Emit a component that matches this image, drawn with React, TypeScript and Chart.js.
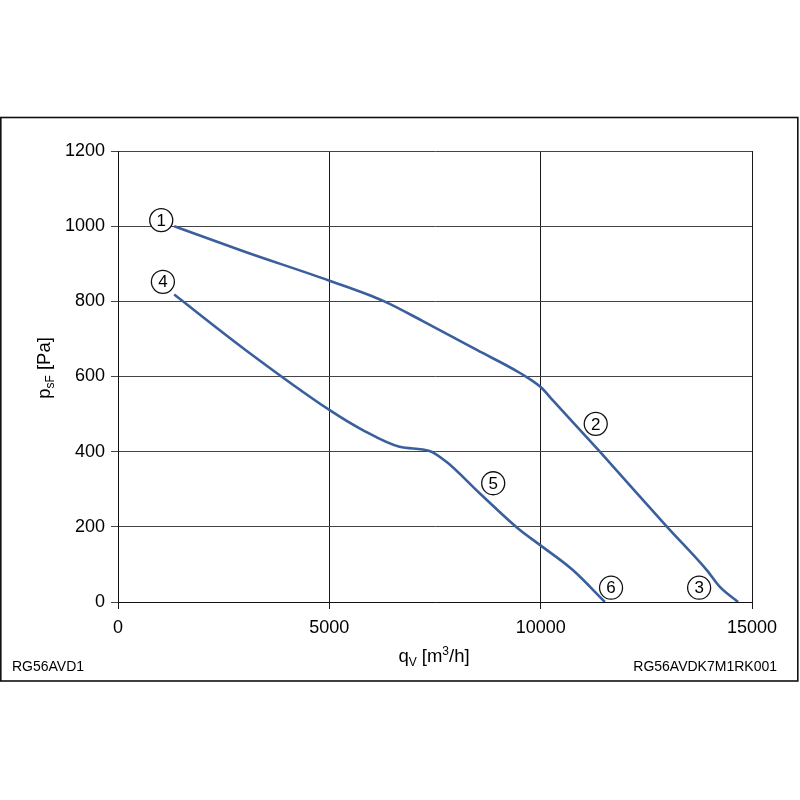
import React, { useEffect, useRef } from "react";
import { Chart, registerables } from "chart.js";
Chart.register(...registerables);

// Curve 1 -> 2 -> 3
const upperQ = [1330, 3000, 5000, 6300, 7200, 8500, 9500, 10000, 10300, 11400, 12990, 13930, 14240, 14670];
const upperP = [1000, 932, 855, 800, 748, 670, 610, 572, 535, 400, 200, 85, 40, 0];
// Curve 4 -> 5 -> 6
const lowerQ = [1330, 3000, 5000, 5780, 6660, 7370, 7770, 8550, 9450, 9980, 10760, 11520];
const lowerP = [818, 672, 511, 458, 413, 402, 373, 290, 197, 152, 85, 0];

// Circled point markers
const markerText = ["1", "2", "3", "4", "5", "6"];
const markerQ = [1023, 11303, 13749, 1062, 8877, 11665];
const markerP = [1016, 474, 38, 852, 316, 38];

const xTicks = [0, 5000, 10000, 15000];
const yTicks = [0, 200, 400, 600, 800, 1000, 1200];

const leftCode = "RG56AVD1";
const rightCode = "RG56AVDK7M1RK001";

const FONT = "'Liberation Sans', Arial, Helvetica, sans-serif";
const LINE = "#3a5f9d";

type Seg = { t: string; size: number; dy: number };

function drawSegs(ctx: CanvasRenderingContext2D, segs: Seg[], x: number, y: number) {
  let cx = x;
  for (const s of segs) {
    ctx.font = `${s.size}px ${FONT}`;
    ctx.fillText(s.t, cx, y + s.dy);
    cx += ctx.measureText(s.t).width;
  }
}
function segsWidth(ctx: CanvasRenderingContext2D, segs: Seg[]) {
  let w = 0;
  for (const s of segs) {
    ctx.font = `${s.size}px ${FONT}`;
    w += ctx.measureText(s.t).width;
  }
  return w;
}

const decorPlugin = {
  id: "decor",
  afterDraw(chart: any) {
    const ctx: CanvasRenderingContext2D = chart.ctx;
    const xs = chart.scales.x;
    const ys = chart.scales.y;
    ctx.save();
    // frame
    ctx.strokeStyle = "#111";
    ctx.lineWidth = 1.6;
    ctx.strokeRect(0.8, 117.5, 797, 563.5);

    // markers
    for (let i = 0; i < markerText.length; i++) {
      const px = xs.getPixelForValue(markerQ[i]);
      const py = ys.getPixelForValue(markerP[i]);
      ctx.beginPath();
      ctx.arc(px, py, 11.5, 0, Math.PI * 2);
      ctx.fillStyle = "#fff";
      ctx.fill();
      ctx.lineWidth = 1.3;
      ctx.strokeStyle = "#111";
      ctx.stroke();
      ctx.fillStyle = "#000";
      ctx.font = `17px ${FONT}`;
      ctx.textAlign = "center";
      ctx.textBaseline = "middle";
      ctx.fillText(markerText[i], px, py + 1);
    }

    ctx.textAlign = "left";
    ctx.textBaseline = "alphabetic";
    ctx.fillStyle = "#000";

    // x title
    const xSegs: Seg[] = [
      { t: "q", size: 18.5, dy: 0 },
      { t: "V", size: 12, dy: 4 },
      { t: " [m", size: 18.5, dy: 0 },
      { t: "3", size: 12, dy: -7 },
      { t: "/h]", size: 18.5, dy: 0 },
    ];
    const xw = segsWidth(ctx, xSegs);
    drawSegs(ctx, xSegs, 434 - xw / 2, 662);

    // y title
    const ySegs: Seg[] = [
      { t: "p", size: 18.5, dy: 0 },
      { t: "sF", size: 12, dy: 4 },
      { t: " [Pa]", size: 18.5, dy: 0 },
    ];
    const yw = segsWidth(ctx, ySegs);
    ctx.save();
    ctx.translate(50, 368);
    ctx.rotate(-Math.PI / 2);
    drawSegs(ctx, ySegs, -yw / 2, 0);
    ctx.restore();

    // bottom codes
    ctx.font = `14px ${FONT}`;
    ctx.textAlign = "left";
    ctx.fillText(leftCode, 12, 671);
    ctx.textAlign = "right";
    ctx.fillText(rightCode, 777, 671);
    ctx.restore();
  },
};

export default function App() {
  const ref = useRef<HTMLCanvasElement | null>(null);
  useEffect(() => {
    if (!ref.current) return;
    const chart = new Chart(ref.current, {
      type: "line",
      data: {
        datasets: [
          {
            label: "upper",
            data: upperQ.map((q, i) => ({ x: q, y: upperP[i] })),
            borderColor: LINE,
            borderWidth: 2.6,
            pointRadius: 0,
            fill: false,
            cubicInterpolationMode: "monotone",
          },
          {
            label: "lower",
            data: lowerQ.map((q, i) => ({ x: q, y: lowerP[i] })),
            borderColor: LINE,
            borderWidth: 2.6,
            pointRadius: 0,
            fill: false,
            cubicInterpolationMode: "monotone",
          },
        ],
      },
      options: {
        animation: false,
        responsive: false,
        layout: { padding: { left: 0, right: 48, top: 151, bottom: 118 } },
        plugins: { legend: { display: false }, tooltip: { enabled: false } },
        scales: {
          x: {
            type: "linear",
            min: 0,
            max: 15000,
            afterBuildTicks: (s: any) => {
              s.ticks = xTicks.map((v) => ({ value: v }));
            },
            afterFit: (s: any) => {
              s.height = 80;
            },
            ticks: {
              color: "#000",
              font: { family: FONT, size: 18 },
              padding: 8,
              maxRotation: 0,
              callback: (v: any) => String(v),
            },
            grid: { color: "#1a1a1a", lineWidth: 1, tickLength: 7 },
            border: { color: "#111", width: 1 },
          },
          y: {
            type: "linear",
            min: 0,
            max: 1200,
            afterBuildTicks: (s: any) => {
              s.ticks = yTicks.map((v) => ({ value: v }));
            },
            afterFit: (s: any) => {
              s.width = 118;
            },
            ticks: {
              color: "#000",
              font: { family: FONT, size: 18 },
              padding: 6,
              callback: (v: any) => String(v),
            },
            grid: { color: "#444", lineWidth: 1, tickLength: 7 },
            border: { color: "#111", width: 1 },
          },
        },
      },
      plugins: [decorPlugin],
    } as any);
    return () => chart.destroy();
  }, []);
  return (
    <div style={{ position: "fixed", left: 0, top: 0, width: 800, height: 800, background: "#fff" }}>
      <canvas ref={ref} width={800} height={800} style={{ width: 800, height: 800, display: "block" }} />
    </div>
  );
}
